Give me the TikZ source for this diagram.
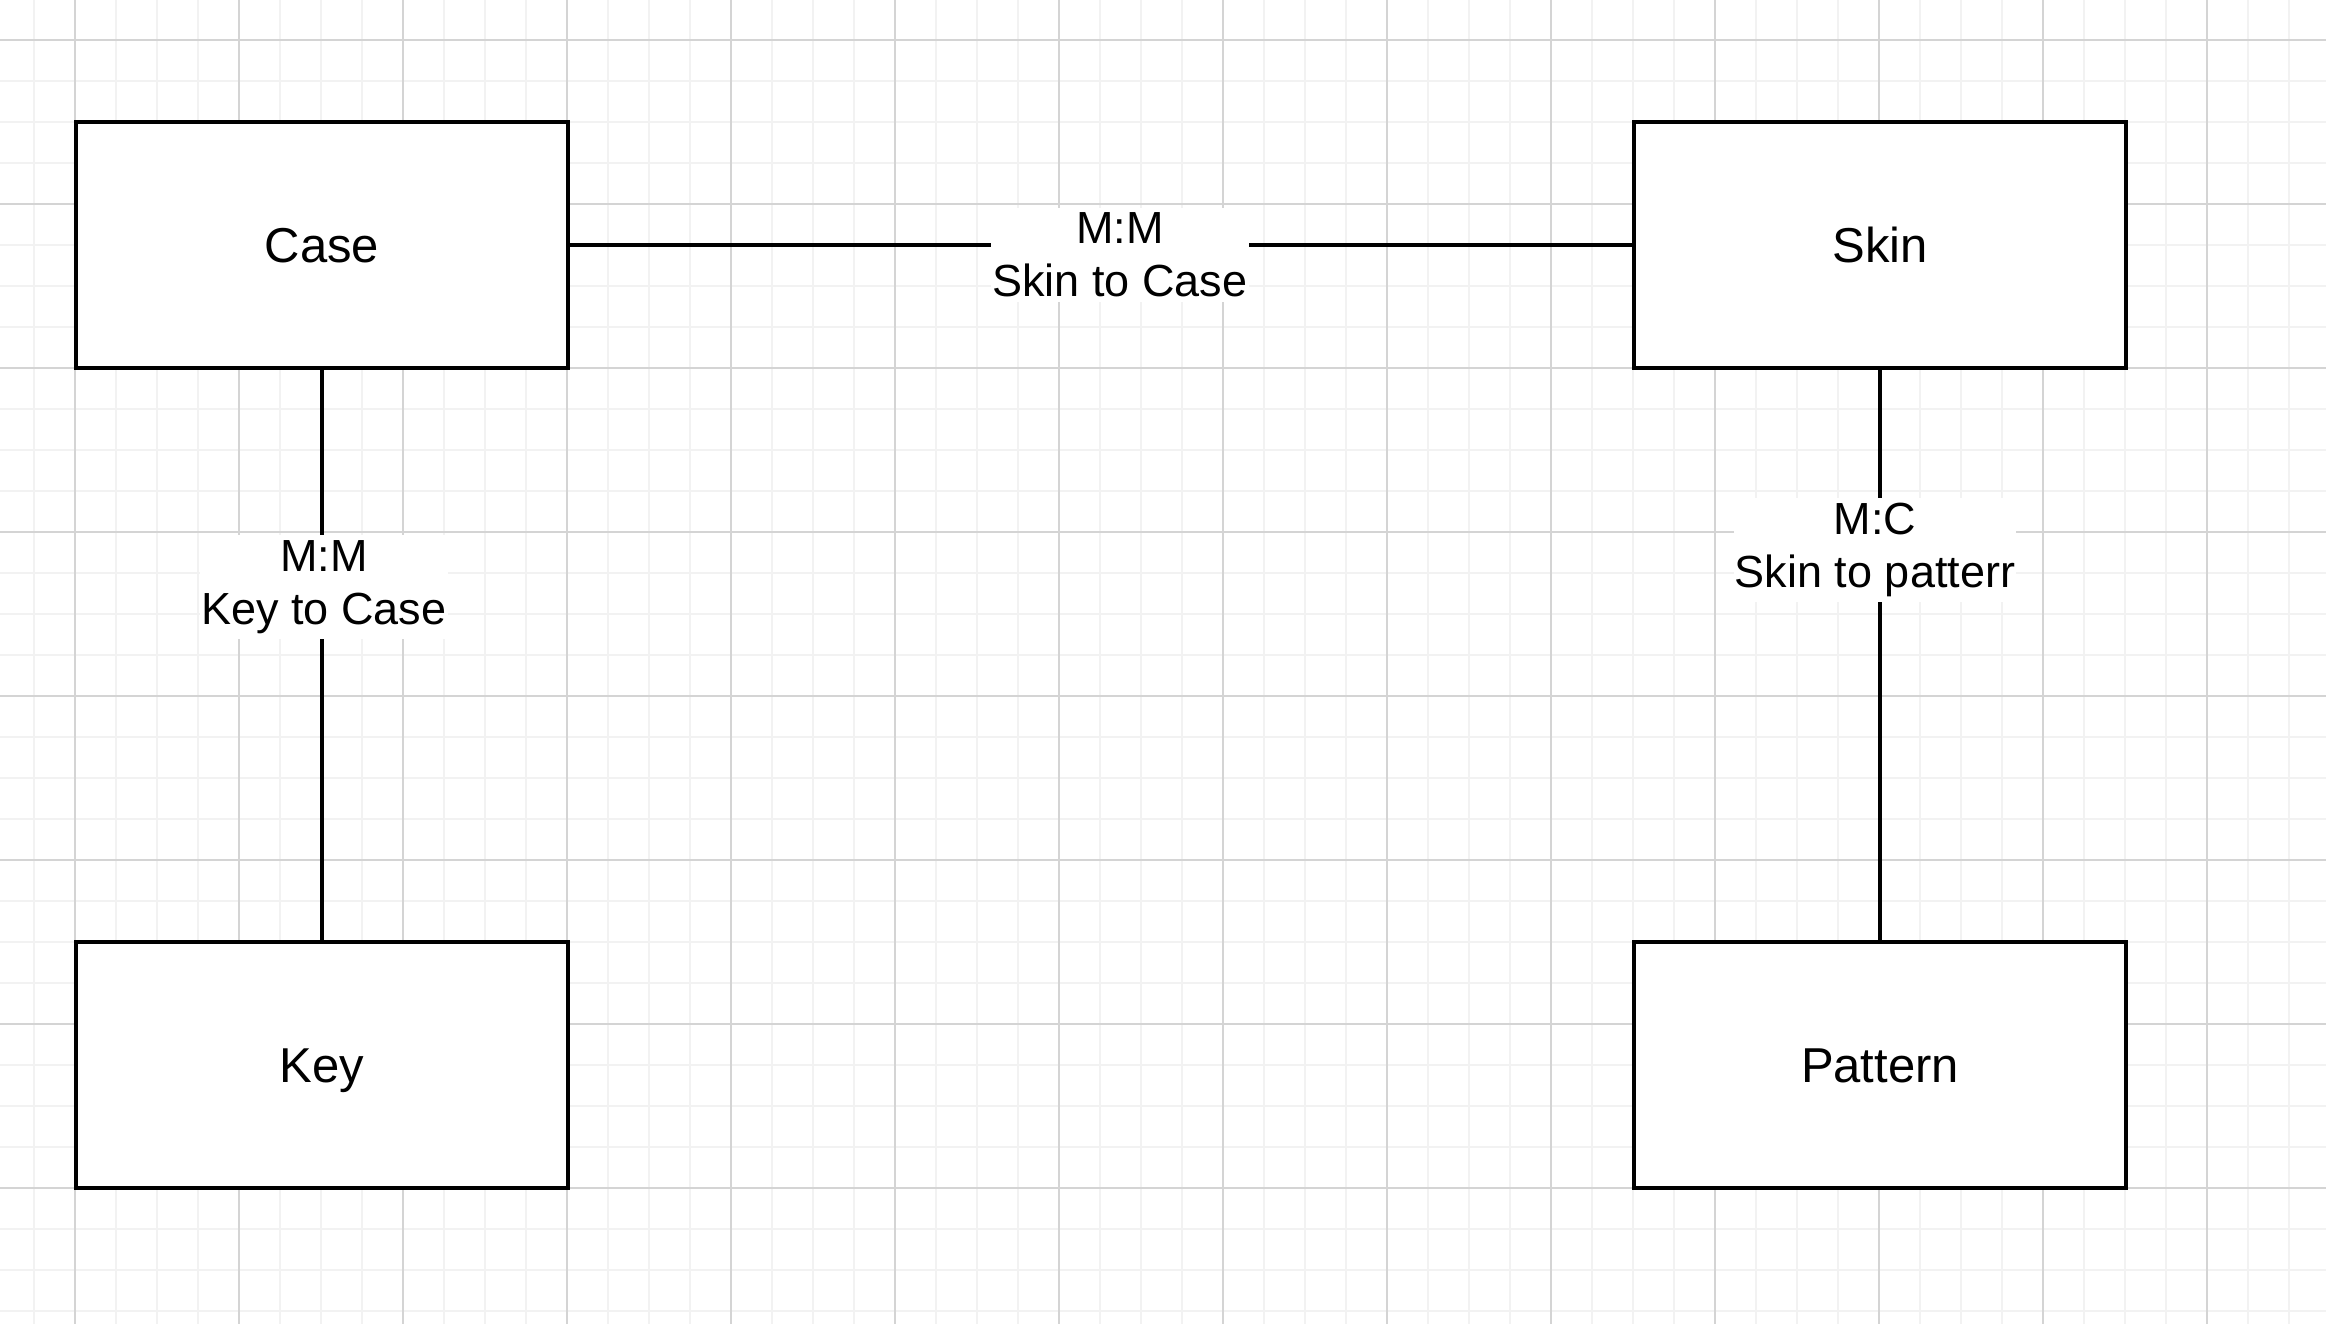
\documentclass[tikz,border=0pt]{standalone}
\usepackage{fontspec}
\setmainfont{Liberation Sans}
\begin{document}
\begin{tikzpicture}[x=1pt,y=-1pt,
  entity/.style={draw=black,line width=4pt,fill=white,minimum width=492pt,minimum height=246pt,inner sep=0pt,text height=35pt,text depth=0pt,font=\fontsize{49}{59}\selectfont},
  rel/.style={fill=white,align=center,inner xsep=1pt,inner ysep=5pt,font=\fontsize{45}{53}\selectfont},
  conn/.style={draw=black,line width=3.8pt},
  minorgrid/.style={draw={rgb,255:red,242;green,242;blue,242},line width=1.3pt},
  majorgrid/.style={draw={rgb,255:red,212;green,212;blue,212},line width=1.2pt}]
\useasboundingbox (0,0) rectangle (2326,1324);
\fill[white] (0,0) rectangle (2326,1324);
% grid
\foreach \i in {-1,...,56} {\draw[minorgrid] ({75+41*\i},0) -- ({75+41*\i},1324);}
\foreach \j in {-1,...,32} {\draw[minorgrid] (0,{40+41*\j}) -- (2326,{40+41*\j});}
\foreach \i in {0,...,13} {\draw[majorgrid] ({75+164*\i},0) -- ({75+164*\i},1324);}
\foreach \j in {0,...,7} {\draw[majorgrid] (0,{40+164*\j}) -- (2326,{40+164*\j});}
% entities
\node[entity] (case) at (322,245) {Case};
\node[entity] (skin) at (1880,245) {Skin};
\node[entity] (key) at (322,1065) {Key};
\node[entity] (pattern) at (1880,1065) {Pattern};
% connectors
\draw[conn] (case) -- (skin);
\draw[conn] (case) -- (key);
\draw[conn] (skin) -- (pattern);
% labels
\node[rel] (l1) at (1120,255) {M:M\\Skin to Case};
\node[rel] (l2) at (324,587) {M:M\\Key to Case};
\node[rel] (l3) at (1875,550) {M:C\\Skin to patterr};
\end{tikzpicture}
\end{document}
